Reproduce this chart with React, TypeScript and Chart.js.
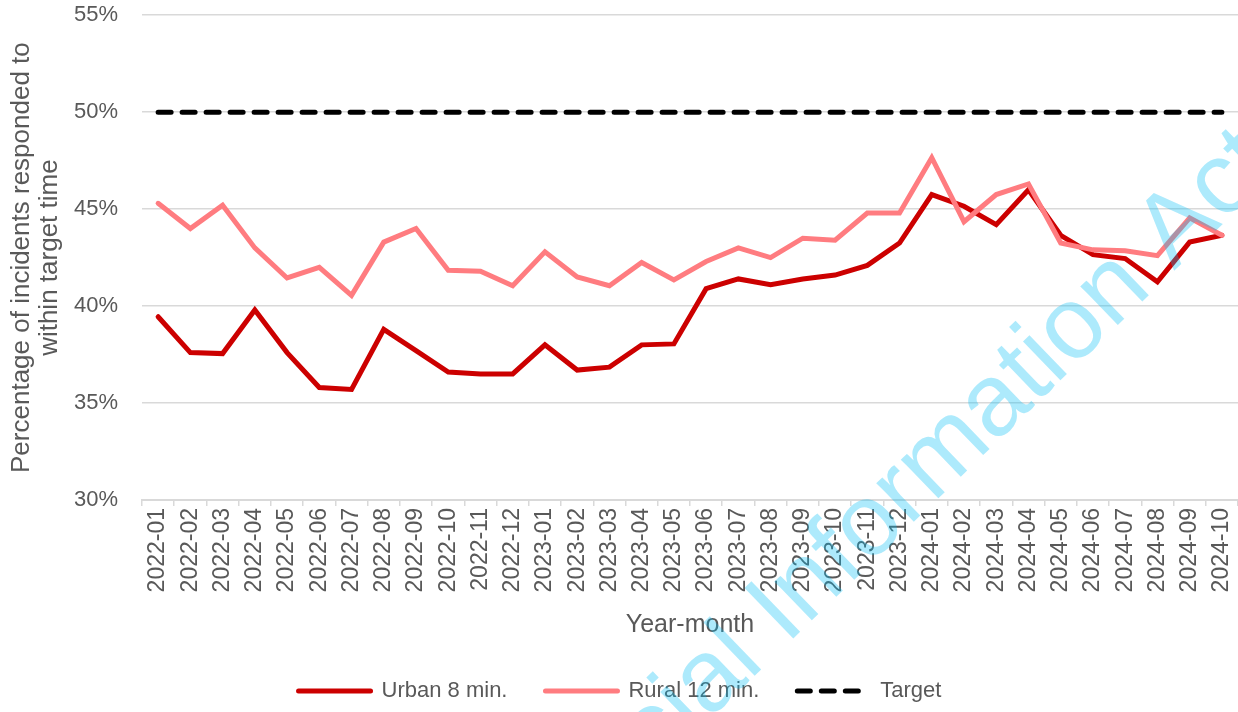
import React, { useEffect, useRef } from 'react';
import { Chart, registerables } from 'chart.js';

Chart.register(...registerables);

const months = [
  '2022-01', '2022-02', '2022-03', '2022-04', '2022-05', '2022-06', '2022-07', '2022-08', '2022-09', '2022-10', '2022-11', '2022-12',
  '2023-01', '2023-02', '2023-03', '2023-04', '2023-05', '2023-06', '2023-07', '2023-08', '2023-09', '2023-10', '2023-11', '2023-12',
  '2024-01', '2024-02', '2024-03', '2024-04', '2024-05', '2024-06', '2024-07', '2024-08', '2024-09', '2024-10',
];

const urban = [
  39.45, 37.6, 37.55, 39.8, 37.6, 35.8, 35.7, 38.8, 37.7, 36.6, 36.5, 36.5,
  38.0, 36.7, 36.85, 38.0, 38.05, 40.9, 41.4, 41.1, 41.4, 41.6, 42.1, 43.25,
  45.75, 45.15, 44.2, 46.0, 43.65, 42.65, 42.45, 41.25, 43.3, 43.65,
];

const rural = [
  45.3, 44.0, 45.2, 43.0, 41.45, 42.0, 40.55, 43.3, 44.0, 41.85, 41.8, 41.05,
  42.8, 41.5, 41.05, 42.25, 41.35, 42.3, 43.0, 42.5, 43.5, 43.4, 44.8, 44.8,
  47.65, 44.35, 45.75, 46.3, 43.25, 42.9, 42.85, 42.6, 44.55, 43.65,
];

const target = [
  50, 50, 50, 50, 50, 50, 50, 50, 50, 50, 50, 50,
  50, 50, 50, 50, 50, 50, 50, 50, 50, 50, 50, 50,
  50, 50, 50, 50, 50, 50, 50, 50, 50, 50,
];

const seriesNames = ['Urban 8 min.', 'Rural 12 min.', 'Target'];
const yTitle = ['Percentage of incidents responded to', 'within target time'];
const xTitle = 'Year-month';
const watermarkText = 'Official Information Act';

const FONT = '"Liberation Sans", Arial, sans-serif';
const TEXT = '#595959';
const GRID = '#d9d9d9';

export default function App() {
  const ref = useRef<HTMLCanvasElement>(null);

  useEffect(() => {
    document.body.style.margin = '0';
    const watermark = {
      id: 'watermark',
      afterDraw(chart: any) {
        const ctx = chart.ctx;
        ctx.save();
        ctx.translate(892, 504);
        ctx.rotate((-44 * Math.PI) / 180);
        ctx.font = '102px ' + FONT;
        ctx.fillStyle = 'rgba(0, 190, 245, 0.32)';
        ctx.textAlign = 'center';
        ctx.textBaseline = 'middle';
        ctx.fillText(watermarkText, 0, 0);
        ctx.restore();
      },
    };

    const chart = new Chart(ref.current as HTMLCanvasElement, {
      type: 'line',
      data: {
        labels: months,
        datasets: [
          {
            label: seriesNames[0],
            data: urban,
            borderColor: '#cc0000',
            backgroundColor: '#cc0000',
            borderWidth: 5,
            pointRadius: 0,
            borderCapStyle: 'round',
            borderJoinStyle: 'miter',
            order: 1,
          },
          {
            label: seriesNames[1],
            data: rural,
            borderColor: '#ff7c80',
            backgroundColor: '#ff7c80',
            borderWidth: 5,
            pointRadius: 0,
            borderCapStyle: 'round',
            borderJoinStyle: 'miter',
            order: 0,
          },
          {
            label: seriesNames[2],
            data: target,
            borderColor: '#000000',
            backgroundColor: '#000000',
            borderWidth: 5,
            borderDash: [13, 11],
            pointRadius: 0,
            borderCapStyle: 'round',
            order: 2,
          },
        ],
      },
      options: {
        animation: false,
        responsive: false,
        layout: { padding: { top: 0, bottom: 0, left: 0, right: -2 } },
        scales: {
          x: {
            offset: true,
            grid: { offset: true, drawOnChartArea: false, tickLength: 6, color: GRID, lineWidth: 1.5 },
            border: { color: GRID, width: 2 },
            ticks: {
              autoSkip: false,
              minRotation: 90,
              maxRotation: 90,
              padding: 2,
              color: TEXT,
              font: { size: 23, family: FONT, lineHeight: 0.6 },
            },
            title: {
              display: true,
              text: xTitle,
              color: TEXT,
              font: { size: 25, family: FONT },
              padding: { top: 0, bottom: 2 },
            },
            afterFit: (s: any) => {
              s.height = 142;
            },
          },
          y: {
            min: 30,
            max: 55,
            ticks: {
              stepSize: 5,
              callback: (v: any) => v + '%',
              padding: 2,
              color: TEXT,
              font: { size: 22, family: FONT },
            },
            grid: { color: GRID, lineWidth: 1.5, drawTicks: true, tickLength: 22, tickColor: 'rgba(0,0,0,0)' },
            border: { display: false },
            title: {
              display: true,
              text: yTitle,
              color: TEXT,
              font: { size: 26, family: FONT, lineHeight: 1.08 },
              padding: { top: 8, bottom: 0 },
            },
            afterFit: (s: any) => {
              s.width = 142;
            },
          },
        },
        plugins: {
          legend: {
            position: 'bottom',
            maxHeight: 70,
            labels: {
              usePointStyle: true,
              pointStyle: 'line',
              pointStyleWidth: 72,
              padding: 38,
              color: TEXT,
              font: { size: 22, family: FONT },
              sort: (a: any, b: any) => a.datasetIndex - b.datasetIndex,
              generateLabels: (c: any) => {
                const items = Chart.defaults.plugins.legend.labels.generateLabels(c);
                items.forEach((it: any) => {
                  const ds = c.data.datasets[it.datasetIndex];
                  it.lineDash = ds.borderDash || [];
                  it.lineCap = 'round';
                  it.lineWidth = 5;
                  it.strokeStyle = ds.borderColor;
                  it.fillStyle = ds.borderColor;
                });
                return items;
              },
            },
          },
          tooltip: { enabled: false },
        },
      },
      plugins: [watermark],
    } as any);

    return () => chart.destroy();
  }, []);

  return (
    <div style={{ position: 'absolute', left: 0, top: 0, width: 1238, height: 712 }}>
      <canvas ref={ref} width={1238} height={712} style={{ display: 'block', width: 1238, height: 712 }} />
    </div>
  );
}
